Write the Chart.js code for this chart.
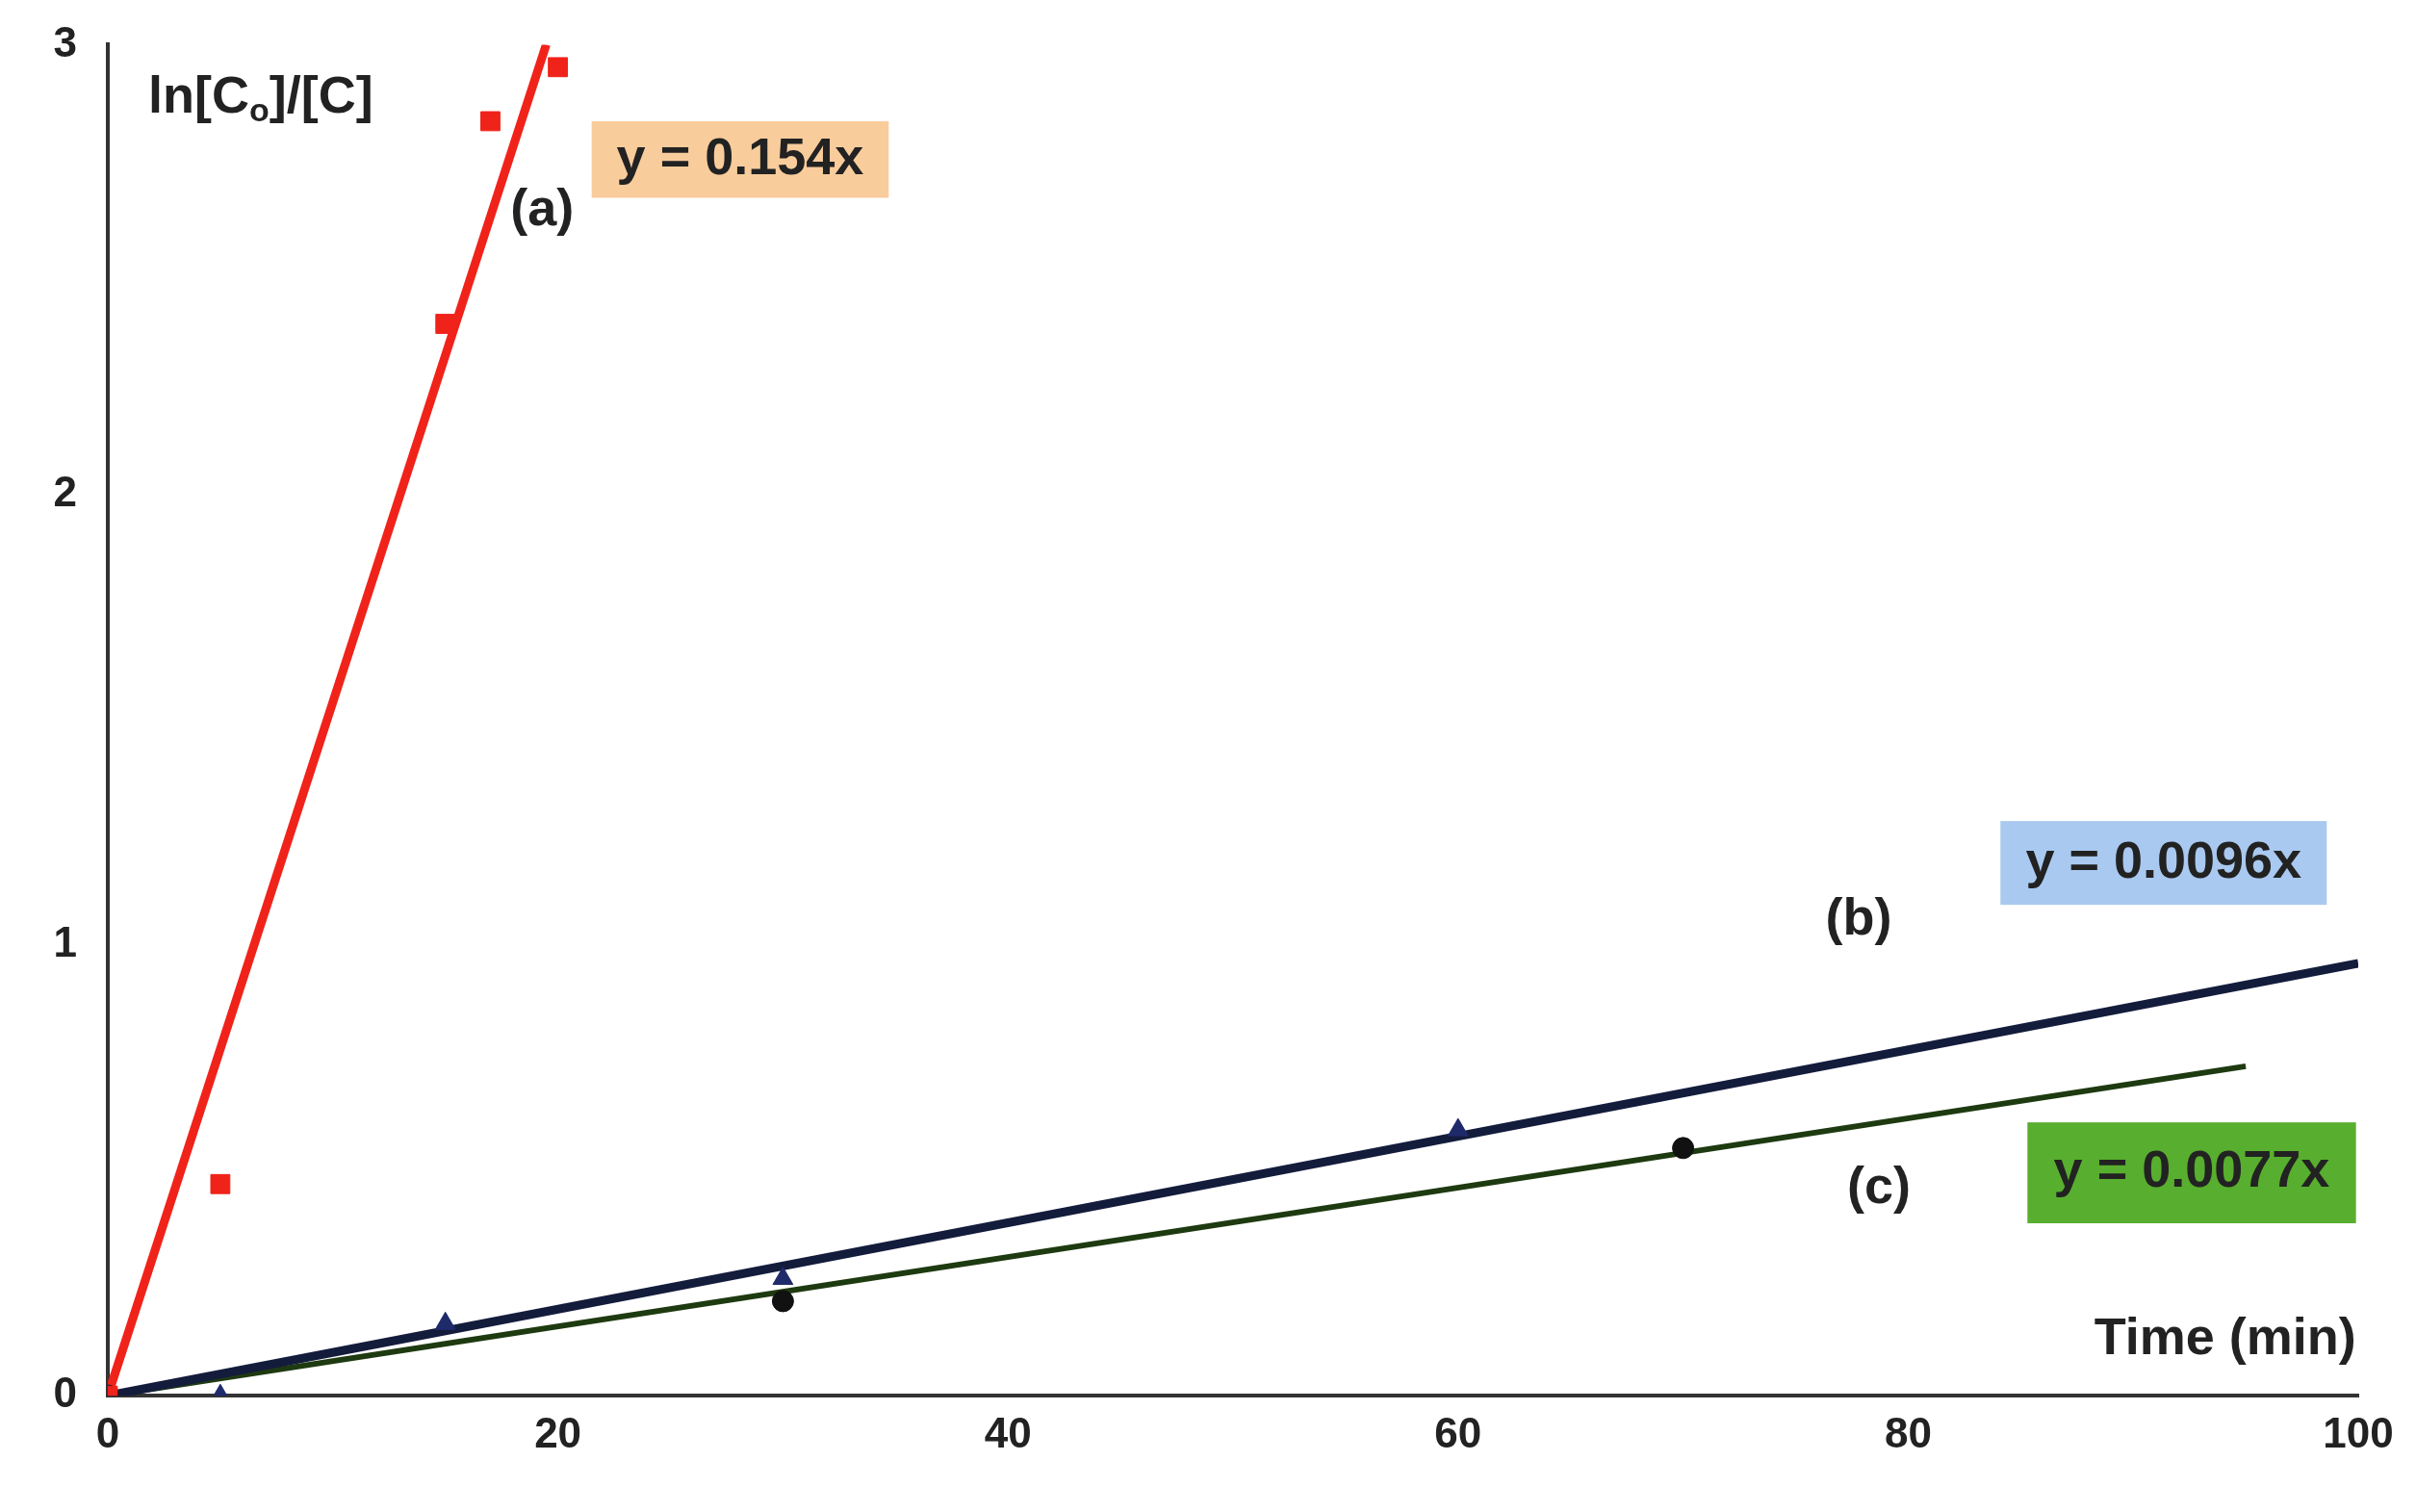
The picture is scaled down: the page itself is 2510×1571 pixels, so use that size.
<!DOCTYPE html>
<html><head><meta charset="utf-8">
<script src="https://cdn.jsdelivr.net/npm/chart.js@4"></script>
<style>html,body{margin:0;background:#fff}#w{width:2510px;height:1571px}</style>
</head><body><div id="w"><canvas id="c"></canvas></div>
<script>
const aX=[0,5,15,17,20], aY=[0,0.47,2.38,2.83,2.95];
const bX=[0,5,15,30,60], bY=[0,0,0.16,0.26,0.59];
const cX=[0,30,70], cY=[0,0.21,0.55];
const slopeA=0.154, slopeB=0.0096, slopeC=0.0077;
const fitEndA=3/0.154, fitEndB=100, fitEndC=95;
const xTicks=[0,20,40,60,80,100], yTicks=[0,1,2,3];
const pts=(xs,ys)=>xs.map((x,i)=>({x,y:ys[i]}));
const F='"Liberation Sans", Arial, sans-serif';
const notes={id:'notes',afterDatasetsDraw(ch){
 const c=ch.ctx,X=ch.scales.x,Y=ch.scales.y;
 const box=(x1,y1,x2,y2,col)=>{c.fillStyle=col;c.fillRect(X.getPixelForValue(x1),Y.getPixelForValue(y1),X.getPixelForValue(x2)-X.getPixelForValue(x1),Y.getPixelForValue(y2)-Y.getPixelForValue(y1));};
 const txt=(s,x,y,al)=>{c.fillStyle='#222';c.textAlign=al||'center';c.textBaseline='middle';c.fillText(s,X.getPixelForValue(x),Y.getPixelForValue(y));};
 c.save();c.font='bold 54px '+F;
 box(21.5,2.83,34.7,2.66,'#F9CC9C');txt('y = 0.154x',28.1,2.745);
 box(84.1,1.276,98.6,1.09,'#A9C9F0');txt('y = 0.0096x',91.35,1.183);
 box(85.3,0.607,99.9,0.383,'#58AE2E');txt('y = 0.0077x',92.6,0.495);
 txt('(a)',19.3,2.63);txt('(b)',77.8,1.055);txt('(c)',78.7,0.46);
 txt('Time (min)',99.9,0.125,'right');
 const x0=X.getPixelForValue(1.8),y0=Y.getPixelForValue(2.88);
 c.textAlign='left';c.fillStyle='#222';
 c.fillText('ln[C',x0,y0);let w=c.measureText('ln[C').width;
 c.font='bold 34px '+F;c.fillText('o',x0+w,y0+14);w+=c.measureText('o').width;
 c.font='bold 54px '+F;c.fillText(']/[C]',x0+w,y0);
 c.restore();}};
new Chart(document.getElementById('c'),{type:'scatter',data:{datasets:[
 {data:pts(aX,aY),pointStyle:'rect',pointRadius:14,backgroundColor:'#F0231A',borderColor:'#F0231A'},
 {data:pts(bX,bY),pointStyle:'triangle',pointRadius:12,backgroundColor:'#1F2A6B',borderColor:'#1F2A6B'},
 {data:pts(cX,cY),pointStyle:'circle',pointRadius:11,backgroundColor:'#111',borderColor:'#111'},
 {type:'line',data:[{x:0,y:0},{x:fitEndA,y:slopeA*fitEndA}],borderColor:'#F0231A',borderWidth:9,pointRadius:0},
 {type:'line',data:[{x:0,y:0},{x:fitEndB,y:slopeB*fitEndB}],borderColor:'#141C3C',borderWidth:9,pointRadius:0},
 {type:'line',data:[{x:0,y:0},{x:fitEndC,y:slopeC*fitEndC}],borderColor:'#1E3A10',borderWidth:6,pointRadius:0}
]},options:{responsive:true,maintainAspectRatio:false,animation:false,
 layout:{padding:{top:46,right:60,bottom:50,left:10}},
 plugins:{legend:{display:false},tooltip:{enabled:false}},
 scales:{x:{type:'linear',min:0,max:100,afterBuildTicks:a=>{a.ticks=xTicks.map(v=>({value:v}))},
   grid:{display:false,drawTicks:true,tickLength:12,color:'#333'},border:{color:'#333',width:4},
   ticks:{font:{size:44,weight:'bold',family:F},color:'#222'}},
  y:{min:0,max:3,afterBuildTicks:a=>{a.ticks=yTicks.map(v=>({value:v}))},afterFit:a=>{a.width=102},
   grid:{display:false,tickLength:12},border:{color:'#333',width:4},
   ticks:{font:{size:44,weight:'bold',family:F},color:'#222',padding:20}}}},
 plugins:[notes]});
</script></body></html>
